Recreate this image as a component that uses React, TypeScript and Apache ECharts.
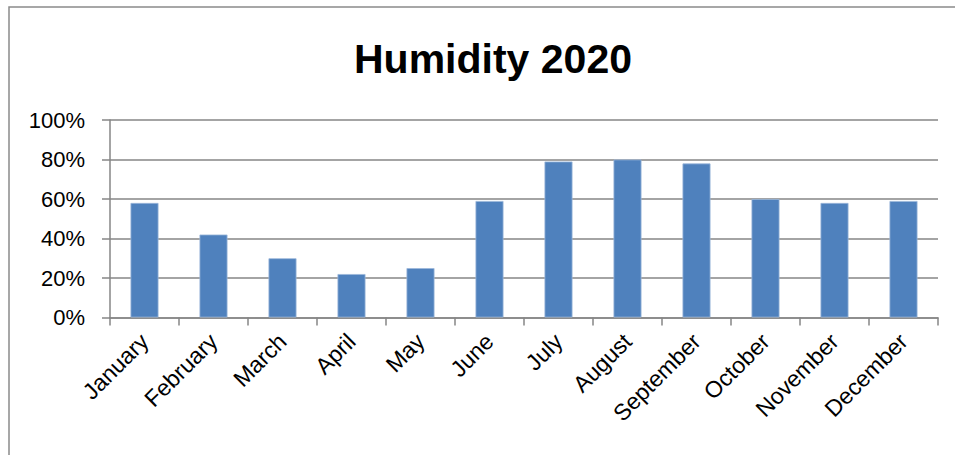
import React, { useEffect, useRef } from "react";
import * as echarts from "echarts";

const months = [
  "January", "February", "March", "April", "May", "June",
  "July", "August", "September", "October", "November", "December",
];
const humidity = [58, 42, 30, 22, 25, 59, 79, 80, 78, 60, 58, 59];
const yTicks = [0, 20, 40, 60, 80, 100];
const titleText = "Humidity 2020";

export default function App() {
  const ref = useRef<HTMLDivElement>(null);
  useEffect(() => {
    if (!ref.current) return;
    const chart = echarts.init(ref.current, null, { renderer: "svg" });
    const gray = "#868686";
    chart.setOption({
      animation: false,
      backgroundColor: "#ffffff",
      title: {
        text: titleText,
        left: 488,
        top: 33,
        textAlign: "center",
        textStyle: {
          fontFamily: "Liberation Sans",
          fontWeight: "bold",
          fontSize: 41,
          color: "#000000",
        },
      },
      graphic: [
        {
          type: "rect",
          shape: { x: 9, y: 7, width: 980, height: 480 },
          style: { fill: "none", stroke: "#8a8a8a", lineWidth: 1.5 },
          silent: true,
        },
      ],
      grid: { left: 110, right: 17, top: 120, bottom: 137.5, containLabel: false },
      xAxis: {
        type: "category",
        data: months,
        boundaryGap: true,
        axisLine: { show: true, lineStyle: { color: gray, width: 1.5 } },
        axisTick: { show: true, length: 8, alignWithLabel: false, lineStyle: { color: gray, width: 1.5 } },
        axisLabel: {
          rotate: 45,
          margin: 20,
          interval: 0,
          fontFamily: "Liberation Sans",
          fontSize: 23,
          color: "#000000",
        },
      },
      yAxis: {
        type: "value",
        min: yTicks[0],
        max: yTicks[yTicks.length - 1],
        interval: 20,
        axisLine: { show: true, lineStyle: { color: gray, width: 1.5 } },
        axisTick: { show: true, length: 8, lineStyle: { color: gray, width: 1.5 } },
        splitLine: { show: true, lineStyle: { color: gray, width: 1.5 } },
        axisLabel: {
          formatter: "{value}%",
          margin: 25,
          fontFamily: "Liberation Sans",
          fontSize: 22,
          color: "#000000",
        },
      },
      series: [
        {
          type: "bar",
          data: humidity,
          barWidth: 28,
          itemStyle: { color: "#4F81BD", borderColor: "#9cb7da", borderWidth: 0.8 },
        },
      ],
    });
    return () => chart.dispose();
  }, []);
  return (
    <div
      ref={ref}
      style={{ position: "absolute", left: 0, top: 0, width: 955, height: 455, background: "#fff" }}
    />
  );
}
